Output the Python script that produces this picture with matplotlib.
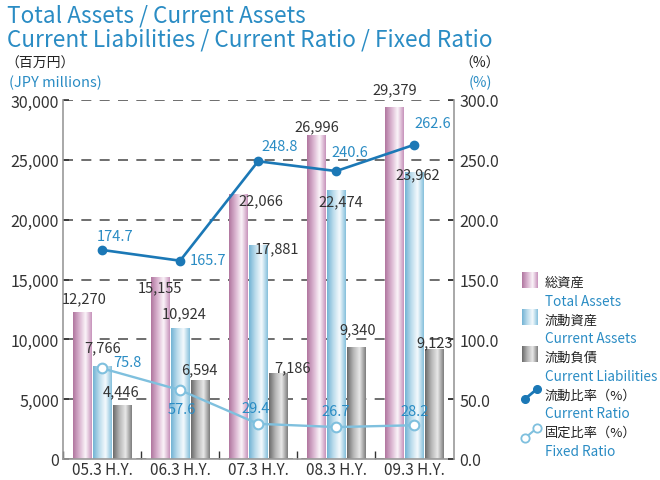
import numpy as np
import matplotlib
matplotlib.use("Agg")
import matplotlib.pyplot as plt
from matplotlib.colors import LinearSegmentedColormap

plt.rcParams['font.family'] = ['Noto Sans CJK JP', 'DejaVu Sans']

periods = ["05.3 H.Y.", "06.3 H.Y.", "07.3 H.Y.", "08.3 H.Y.", "09.3 H.Y."]
total_assets = [12270, 15155, 22066, 26996, 29379]
current_assets = [7766, 10924, 17881, 22474, 23962]
current_liab = [4446, 6594, 7186, 9340, 9123]
current_ratio = [174.7, 165.7, 248.8, 240.6, 262.6]
fixed_ratio = [75.8, 57.6, 29.4, 26.7, 28.2]

# label offsets in pixels (dx, dy), tuned to the reference
off_total = [(2, 14), (0, -10), (23, -5), (1, 10), (1, 18)]
off_current = [(1, 19), (4, 15), (19, -3), (5, -11), (4, -2)]
off_liab = [(-1, 14), (-1, 11), (14, 6), (1, 18), (0, 8)]
off_cr = [(13, 14), (28, 1), (22, 15), (14, 19), (19, 22)]
off_fr = [(25, 6), (2, -19), (-2, 16), (0, 16), (0, 14)]

BLUE_TXT = "#2a8cc4"
DARK = "#333333"
CR_COL = "#1b78b6"
FR_COL = "#7fc0de"

cm_purple = LinearSegmentedColormap.from_list("p", ["#b0769f", "#d9b3cf", "#fbf4f9", "#c792bb"], N=256)
cm_blue = LinearSegmentedColormap.from_list("b", ["#72b3d4", "#bcdcec", "#f4fafd", "#84bfdb"], N=256)
cm_gray = LinearSegmentedColormap.from_list("g", ["#6a6a6a", "#b5b5b5", "#e8e8e8", "#7c7c7c"], N=256)

fig = plt.figure(figsize=(6.6, 4.81), dpi=100)
ax = fig.add_axes([63 / 660, 21 / 481, 391 / 660, 359 / 481])

x = np.arange(len(periods))
w = 0.237
step = 0.257
grad = np.linspace(0, 1, 128).reshape(1, -1)


def grad_bars(xs, vals, cmap):
    bars = ax.bar(xs, vals, width=w, color="none", zorder=2)
    for p in bars:
        x0, y0 = p.get_x(), p.get_y()
        ax.imshow(grad, cmap=cmap, extent=(x0, x0 + p.get_width(), y0, y0 + p.get_height()),
                  aspect="auto", interpolation="bilinear", zorder=2)
    return bars


b1 = grad_bars(x - step, total_assets, cm_purple)
b2 = grad_bars(x, current_assets, cm_blue)
b3 = grad_bars(x + step, current_liab, cm_gray)

for bars, offs in [(b1, off_total), (b2, off_current), (b3, off_liab)]:
    for p, (dx, dy) in zip(bars, offs):
        ax.annotate(f"{p.get_height():,.0f}", (p.get_x() + p.get_width() / 2, p.get_height()),
                    xytext=(dx, dy), textcoords="offset pixels", ha="center", va="center",
                    fontsize=10.5, color=DARK, zorder=5)

ax.set_xlim(-0.5, 4.51)
ax.set_ylim(0, 30000)
ax.set_axisbelow(True)
ax.yaxis.grid(True, color="#555555", lw=1.2, dashes=(6, 5))
ax.set_yticks(np.arange(0, 30001, 5000))
ax.set_yticklabels([f"{v:,}" for v in range(0, 30001, 5000)])
ax.set_xticks(x)
ax.set_xticklabels(periods)
ax.set_xticks(np.arange(-0.5, 4, 1), minor=True)
ax.tick_params(axis="x", which="major", length=0, pad=1.5, labelsize=11, colors=DARK)
ax.tick_params(axis="x", which="minor", direction="in", length=6, width=1, color="#333333")
ax.tick_params(axis="y", direction="in", length=4, width=1.2, pad=3, labelsize=11.5,
               labelcolor=DARK, color="#333333")
for s in ["top", "right"]:
    ax.spines[s].set_visible(False)
for s in ["left", "bottom"]:
    ax.spines[s].set_color("#999999")
    ax.spines[s].set_linewidth(1.2)

ax2 = ax.twinx()
ax2.set_ylim(0, 300)
ax2.set_yticks(np.arange(0, 301, 50))
ax2.set_yticklabels([f"{v:.1f}" for v in range(0, 301, 50)])
ax2.tick_params(axis="y", direction="in", length=4, width=1.2, pad=4, labelsize=11.5,
                labelcolor=DARK, color="#333333")
for s in ["top", "left", "bottom"]:
    ax2.spines[s].set_visible(False)
ax2.spines["right"].set_color("#999999")
ax2.spines["right"].set_linewidth(1.2)

ax2.plot(x, current_ratio, color=CR_COL, lw=1.9, marker="o", ms=6, zorder=4)
ax2.plot(x, fixed_ratio, color=FR_COL, lw=1.7, marker="o", ms=7, mfc="white", mec=FR_COL,
         mew=1.5, zorder=4)
for xi, v, (dx, dy) in zip(x, current_ratio, off_cr):
    ax2.annotate(f"{v:.1f}", (xi, v), xytext=(dx, dy), textcoords="offset pixels",
                 ha="center", va="center", fontsize=10.5, color=BLUE_TXT)
for xi, v, (dx, dy) in zip(x, fixed_ratio, off_fr):
    ax2.annotate(f"{v:.1f}", (xi, v), xytext=(dx, dy), textcoords="offset pixels",
                 ha="center", va="center", fontsize=10.5, color=BLUE_TXT)
ax2.set_xlim(-0.5, 4.51)


def px(xp, yp):
    return xp / 660, 1 - yp / 481


# titles and unit labels
fig.text(*px(7, 16), "Total Assets / Current Assets", fontsize=16.3, color=BLUE_TXT, va="center")
fig.text(*px(7, 40), "Current Liabilities / Current Ratio / Fixed Ratio", fontsize=16.3,
         color=BLUE_TXT, va="center")
fig.text(*px(5, 64), "（百万円）", fontsize=10, color="#222222", va="center")
fig.text(*px(9, 83), "(JPY millions)", fontsize=10.5, color=BLUE_TXT, va="center")
fig.text(*px(480, 64), "（%）", fontsize=10, color="#222222", va="center", ha="center")
fig.text(*px(480, 83), "(%)", fontsize=10.5, color=BLUE_TXT, va="center", ha="center")

# legend drawn in pixel coordinates
lg = fig.add_axes([0, 0, 1, 1], facecolor="none")
lg.axis("off")
for cmap, y0 in [(cm_purple, 273), (cm_blue, 310), (cm_gray, 347)]:
    lg.imshow(grad, cmap=cmap, extent=(522, 538, y0 + 16, y0), aspect="auto",
              interpolation="bilinear")
lg.plot([525, 537], [400, 390], color=CR_COL, lw=2, marker="o", ms=5.5)
lg.plot([525, 537], [439, 429], color=FR_COL, lw=1.5, marker="o", ms=6, mfc="white",
        mec=FR_COL, mew=1.3)
lg.set_xlim(0, 660)
lg.set_ylim(481, 0)

legend_jp = ["総資産", "流動資産", "流動負債", "流動比率（%）", "固定比率（%）"]
legend_en = ["Total Assets", "Current Assets", "Current Liabilities", "Current Ratio", "Fixed Ratio"]
jp_y = [283, 321, 358, 396, 433]
en_y = [302, 339, 377, 414, 452]
for t, yy in zip(legend_jp, jp_y):
    fig.text(*px(545, yy), t, fontsize=9.5, color="#222222", va="center")
for t, yy in zip(legend_en, en_y):
    fig.text(*px(545, yy), t, fontsize=9.8, color=BLUE_TXT, va="center")

fig.savefig("out.png", dpi=100)
